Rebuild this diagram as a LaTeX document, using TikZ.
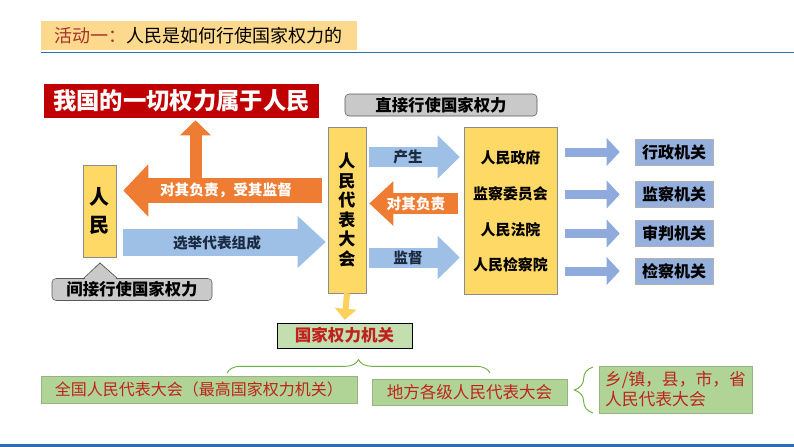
\documentclass[tikz,border=0pt]{standalone}
\usepackage{fontspec}
\setmainfont{Noto Sans CJK SC}
\usetikzlibrary{arrows.meta,decorations.pathreplacing,positioning}

\definecolor{yfill}{HTML}{FFD966}
\definecolor{yline}{HTML}{8C8C8C}
\definecolor{orarrow}{HTML}{EE7D33}
\definecolor{blarrow}{HTML}{9EC0E6}
\definecolor{smarrow}{HTML}{8FAADC}
\definecolor{organbox}{HTML}{95B0DD}
\definecolor{grbox}{HTML}{AFD495}
\definecolor{grline}{HTML}{70AD47}
\definecolor{redtxt}{HTML}{C0231E}
\definecolor{redfill}{HTML}{C00000}
\definecolor{titlefill}{HTML}{FDD98E}
\definecolor{titlered}{HTML}{A5342B}
\definecolor{bluerule}{HTML}{2E6DAE}
\definecolor{grayfill}{HTML}{C9C9C9}
\definecolor{navytxt}{HTML}{1B2A41}

\tikzset{
  ybox/.style={draw=yline, fill=yfill, inner sep=0pt},
  graybox/.style={draw=gray!70!black, fill=grayfill, rounded corners=3pt, inner sep=0pt,
    font=\fontsize{12.3}{14}\selectfont\bfseries},
  greenbox/.style={fill=grbox, draw=grbox!85!black, inner sep=0pt, text=redtxt,
    font=\fontsize{12}{15}\selectfont},
  organ/.style={draw=gray!60, fill=organbox, inner sep=0pt, minimum width=58.5pt,
    minimum height=19.5pt, font=\fontsize{12}{14}\selectfont\bfseries},
  inner/.style={font=\fontsize{11.2}{13}\selectfont\bfseries},
  onarrow/.style={font=\fontsize{11}{13}\selectfont\bfseries},
  orangearrow/.style={draw=orarrow},
  bluearrow/.style={draw=blarrow}
}

\begin{document}
\begin{tikzpicture}[x=0.75pt,y=-0.75pt]
\useasboundingbox (0,0) rectangle (794,447);

% Titel und Linien
\node[fill=titlefill, minimum width=237pt, minimum height=21.75pt, inner sep=0pt,
  font=\fontsize{13.5}{16}\selectfont] (title) at (199,35.5)
  {\textcolor{titlered}{活动一：}人民是如何行使国家权力的};
\draw[bluerule, line width=0.9pt] (41,52.5) -- (794,52.5);
\draw[bluerule, line width=2.4pt] (0,445.5) -- (794,445.5);

% Kasten oben
\node[fill=redfill, text=white, minimum width=206.25pt, minimum height=25.5pt, inner sep=0pt,
  font=\fontsize{17.5}{20}\selectfont\bfseries] (allpower) at (181.5,101) {我国的一切权力属于人民};
\node[graybox, minimum width=144pt, minimum height=16.5pt] (direct) at (441,105) {直接行使国家权力};

% Volk und Volkskongress
\node[ybox, minimum width=24.75pt, minimum height=69pt, align=center,
  font=\fontsize{15}{21}\selectfont\bfseries] (people) at (99.5,211) {人\\民};
\node[ybox, minimum width=28.5pt, minimum height=124.5pt, align=center,
  font=\fontsize{12.8}{14.7}\selectfont\bfseries] (npc) at (347,210) {人\\民\\代\\表\\大\\会};

% Hinweis indirekt
\node[graybox, minimum width=120pt, minimum height=16.5pt] (indirect) at (132,289.5) {间接行使国家权力};
\fill[grayfill] (83.5,280) -- (100,263.5) -- (117.5,280) -- cycle;
\draw[gray!70!black, line width=0.6pt] (83,279) -- (100,263) -- (118,279);

% Staatsorgane
\node[ybox, minimum width=69.75pt, minimum height=125.25pt] (organs) at (510.5,210.5) {};
\node[inner] (gov) at (510.5,158) {人民政府};
\node[inner] (sup) at (510.5,194) {监察委员会};
\node[inner] (court) at (510.5,230) {人民法院};
\node[inner] (proc) at (510.5,265) {人民检察院};

% Blockpfeile links
\coordinate (upbase) at (195.5,181);
\draw[orangearrow, line width=9pt, -{Triangle[width=22.5pt,length=11.25pt]}, shorten >=1.5pt]
  (upbase) -- (upbase |- allpower.south);
\draw[orangearrow, line width=18.75pt, -{Triangle[width=38.25pt,length=18.75pt]},
  shorten <=4.5pt, shorten >=5.25pt] (npc.west |- 0,190.5) -- (people.east |- 0,190.5);
\node[onarrow, text=white] (resp) at (226,190) {对其负责，受其监督};
\draw[bluearrow, line width=20.25pt, -{Triangle[width=37.5pt,length=21pt]},
  shorten <=5.25pt, shorten >=1.5pt] (people.east |- 0,242) -- (npc.west |- 0,242);
\node[onarrow, text=navytxt] (elect) at (217,243) {选举代表组成};

% Blockpfeile Mitte
\draw[bluearrow, line width=15pt, -{Triangle[width=31.5pt,length=16.5pt]},
  shorten <=2.25pt, shorten >=3pt] (npc.east |- 0,157) -- (organs.west |- 0,157);
\node[onarrow, text=navytxt] (produce) at (408,157) {产生};
\draw[orangearrow, line width=15.75pt, -{Triangle[width=32.25pt,length=18pt]},
  shorten <=4.5pt, shorten >=2.25pt] (organs.west |- 0,203.5) -- (npc.east |- 0,203.5);
\node[onarrow, text=white] (resp2) at (416,204) {对其负责};
\draw[bluearrow, line width=15pt, -{Triangle[width=31.5pt,length=16.5pt]},
  shorten <=2.25pt, shorten >=3pt] (npc.east |- 0,257.5) -- (organs.west |- 0,257.5);
\node[onarrow, text=navytxt] (superv) at (408,258) {监督};

% Organe rechts
\foreach \name/\y/\txt in {exec/152/行政机关, supv/194.5/监察机关, judg/233.5/审判机关, prosc/271/检察机关}{
  \node[organ] (\name) at (674,\y) {\txt};
  \draw[smarrow, line width=6.75pt, -{Triangle[width=20.25pt,length=9.75pt]},
    shorten <=6pt, shorten >=11.25pt] (organs.east |- \name) -- (\name.west);
}

% Staatsmacht
\node[draw=black, fill=grbox!75, minimum width=101.25pt, minimum height=18.75pt, inner sep=0pt,
  text=redtxt, font=\fontsize{12.4}{14}\selectfont\bfseries] (power) at (344.5,335.5) {国家权力机关};
\draw[draw=yfill!90!orange, line width=4.5pt, -{Triangle[width=15.75pt,length=8.25pt]}, shorten >=2.25pt]
  (npc.south) -- (power.north);

% Klammern und Kongresse
\draw[grline, line width=0.7pt, decorate, decoration={brace, amplitude=10pt}]
  (227,373) -- (490,373);
\node[greenbox, minimum width=237pt, minimum height=20.25pt] (national) at (199,389.5)
  {全国人民代表大会（最高国家权力机关）};
\node[greenbox, minimum width=146.25pt, minimum height=19.5pt,
  font=\fontsize{12.4}{15}\selectfont] (local) at (469.5,392) {地方各级人民代表大会};
\draw[grline, line width=0.7pt, decorate, decoration={brace, amplitude=14pt}]
  (593,413) -- (593,367);
\node[greenbox, minimum width=114.75pt, minimum height=35.25pt, align=left,
  font=\fontsize{12.6}{15}\selectfont] (levels) at (675.5,389.5) {乡/镇，县，市，省\\人民代表大会};

\end{tikzpicture}
\end{document}
